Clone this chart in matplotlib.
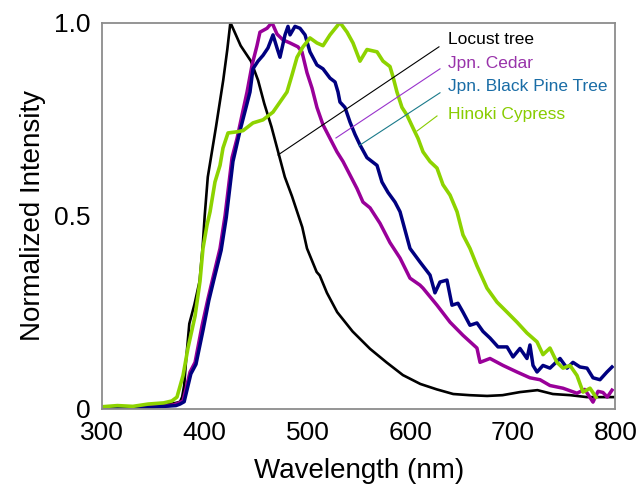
import matplotlib
matplotlib.use("Agg")
import matplotlib.pyplot as plt

plt.rcParams['font.family'] = ['Liberation Sans', 'DejaVu Sans']

# ---- data ----
locust_wl = [300, 320, 340, 355, 365, 372, 376, 378, 380, 382, 385, 390, 395, 398, 400, 403,
             411, 418, 422, 425, 430, 435, 445, 452, 458, 465, 472, 478, 485, 490, 495, 499.6,
             509, 512, 519, 529, 544, 561, 577, 593, 610, 626, 642, 658, 675, 690, 707, 724,
             739, 756, 772, 788, 800]
locust_int = [0.0, 0.003, 0.004, 0.008, 0.012, 0.015, 0.018, 0.03, 0.06, 0.13, 0.22, 0.27, 0.33,
              0.42, 0.50, 0.60, 0.73, 0.85, 0.93, 1.0, 0.97, 0.94, 0.90, 0.85, 0.79, 0.73, 0.66,
              0.60, 0.55, 0.51, 0.47, 0.415, 0.354, 0.345, 0.30, 0.25, 0.20, 0.155, 0.12, 0.087,
              0.064, 0.05, 0.038, 0.035, 0.033, 0.035, 0.043, 0.048, 0.038, 0.035, 0.03, 0.03, 0.03]

cedar_wl = [300, 315, 330, 345, 360, 370, 375, 378.9, 385.7, 390.6, 397.4, 403.2, 408.1, 414.9,
            419.8, 426.6, 431.5, 436.3, 441.2, 446.1, 450.9, 453.8, 460.7, 465.5, 470.4, 476.2,
            483.1, 490.8, 494.7, 499.6, 504.5, 509.3, 515.2, 522.0, 528.8, 534.7, 541.5, 548.3,
            554.1, 561.0, 570.7, 580.4, 590.2, 599.9, 609.6, 612.6, 626.2, 638.9, 651.5, 665.1,
            668.1, 677.8, 690.5, 704.1, 716.7, 726.5, 736.2, 748.9, 762.5, 770, 778.1, 783,
            787.8, 792, 796.6]
cedar_int = [0.002, 0.006, 0.003, 0.008, 0.006, 0.01, 0.015, 0.02, 0.095, 0.12, 0.215, 0.285,
             0.34, 0.415, 0.50, 0.65, 0.70, 0.76, 0.82, 0.89, 0.94, 0.975, 0.985, 1.0, 0.97,
             0.955, 0.947, 0.937, 0.924, 0.87, 0.83, 0.78, 0.735, 0.70, 0.665, 0.64, 0.605,
             0.57, 0.535, 0.52, 0.48, 0.43, 0.39, 0.338, 0.32, 0.312, 0.268, 0.224, 0.19,
             0.157, 0.12, 0.13, 0.112, 0.095, 0.08, 0.075, 0.06, 0.053, 0.04, 0.05, 0.017,
             0.045, 0.042, 0.03, 0.048]

pine_wl = [300, 320, 340, 360, 372, 376, 380, 386.5, 391.5, 398.5, 404, 409, 416, 421, 427.5,
           434.4, 444.1, 447.0, 451.9, 456.8, 461.6, 466.5, 470.4, 473.3, 478.2, 481.1, 483.1,
           487.9, 492.8, 497.7, 502.5, 509.3, 515.2, 522.0, 526.9, 529.8, 531.7, 536.6, 541.5,
           546.4, 551.2, 558.0, 562.9, 567.8, 572.6, 578.5, 585.3, 590.2, 599.9, 609.6, 619.4,
           624.2, 629.1, 635.9, 640.8, 646.6, 651.5, 658.3, 665.1, 671.0, 677.8, 685.6, 694.4,
           700.2, 707.0, 713.8, 716.7, 719.7, 723.6, 729.4, 736.2, 746.0, 752.8, 758.6, 765.4,
           772.3, 778.1, 784.9, 791.7, 796.6]
pine_int = [0.0, 0.003, 0.002, 0.006, 0.008, 0.012, 0.018, 0.09, 0.115, 0.205, 0.28, 0.335,
            0.41, 0.495, 0.64, 0.72, 0.82, 0.88, 0.90, 0.915, 0.934, 0.968, 0.934, 0.91, 0.968,
            0.99, 0.968, 0.99, 0.985, 0.968, 0.924, 0.89, 0.88, 0.856, 0.846, 0.82, 0.794,
            0.78, 0.742, 0.71, 0.683, 0.65, 0.64, 0.63, 0.587, 0.56, 0.535, 0.51, 0.415, 0.38,
            0.346, 0.30, 0.328, 0.333, 0.268, 0.273, 0.25, 0.216, 0.222, 0.20, 0.183, 0.16,
            0.16, 0.134, 0.156, 0.13, 0.165, 0.112, 0.095, 0.112, 0.105, 0.13, 0.105, 0.12,
            0.108, 0.105, 0.08, 0.075, 0.095, 0.108]

hinoki_wl = [300, 315, 330, 345, 360, 368, 373, 378.9, 383.7, 390.6, 395.4, 398.3, 402.2,
             405.2, 410.0, 414.9, 417.8, 422.7, 431.5, 437.3, 447.0, 456.8, 466.5, 473.3,
             480.1, 485.0, 489.9, 495.7, 502.5, 509.3, 515.2, 522.0, 531.7, 538.6, 544.4,
             551.2, 558.0, 567.8, 573.6, 580.4, 583.3, 587.2, 592.1, 597.0, 602.8, 607.7,
             612.6, 619.4, 626.2, 632.0, 638.9, 645.7, 651.5, 658.3, 665.1, 674.9, 684.6,
             694.4, 704.1, 713.8, 723.6, 729.4, 736.2, 743.0, 748.9, 755.7, 762.5, 768.4,
             775.2, 781]
hinoki_int = [0.005, 0.008, 0.006, 0.012, 0.015, 0.02, 0.03, 0.086, 0.157, 0.24, 0.33, 0.415,
              0.475, 0.51, 0.587, 0.63, 0.675, 0.714, 0.717, 0.72, 0.74, 0.748, 0.768, 0.794,
              0.82, 0.864, 0.91, 0.937, 0.96, 0.947, 0.94, 0.968, 1.0, 0.975, 0.947, 0.90,
              0.93, 0.924, 0.90, 0.886, 0.86, 0.82, 0.78, 0.76, 0.727, 0.70, 0.665, 0.64,
              0.623, 0.58, 0.553, 0.51, 0.45, 0.415, 0.37, 0.312, 0.276, 0.25, 0.224, 0.196,
              0.173, 0.14, 0.157, 0.12, 0.105, 0.112, 0.086, 0.043, 0.053, 0.03]

labels = ["Locust tree", "Jpn. Cedar", "Jpn. Black Pine Tree", "Hinoki Cypress"]
x_ticks = [300, 400, 500, 600, 700, 800]
y_ticks = [0, 0.5, 1.0]
y_ticklabels = ["0", "0.5", "1.0"]

# ---- figure ----
fig = plt.figure(figsize=(6.4, 4.84), dpi=100)
ax = fig.add_axes([0.1594, 0.1556, 0.8023, 0.7979])

ax.plot(locust_wl, locust_int, color="#000000", lw=1.9)
ax.plot(cedar_wl, cedar_int, color="#990099", lw=2.5)
ax.plot(pine_wl, pine_int, color="#000080", lw=2.5)
ax.plot(hinoki_wl, hinoki_int, color="#8DD300", lw=2.6)

ax.set_xlim(300, 800)
ax.set_ylim(0, 1.0)
ax.set_xticks(x_ticks)
ax.set_yticks(y_ticks)
ax.set_yticklabels(y_ticklabels)
ax.tick_params(length=0, labelsize=19)
ax.tick_params(axis='x', pad=9)
ax.tick_params(axis='y', pad=8)
for s in ax.spines.values():
    s.set_color("#8c8c8c")
    s.set_linewidth(1.3)

ax.set_xlabel("Wavelength (nm)", fontsize=20, labelpad=9)
ax.set_ylabel("Normalized Intensity", fontsize=20, labelpad=6)

# leader-line labels
text_colors = ["#000000", "#9933AA", "#1A6DA6", "#88CC00"]
line_colors = ["#000000", "#9933CC", "#1A7A8A", "#88CC00"]
starts = [(471.4, 0.657), (527.8, 0.701), (550.2, 0.681), (606.7, 0.719)]
ends = [(628.1, 0.937), (629.1, 0.880), (629.1, 0.818), (626.2, 0.758)]
text_y = [0.955, 0.895, 0.833, 0.763]
for lab, tc, lc, s, e, ty in zip(labels, text_colors, line_colors, starts, ends, text_y):
    ax.plot([s[0], e[0]], [s[1], e[1]], color=lc, lw=0.8)
    ax.text(637, ty, lab, color=tc, fontsize=12.5, va="center", ha="left")

fig.savefig("out.png", dpi=100)
